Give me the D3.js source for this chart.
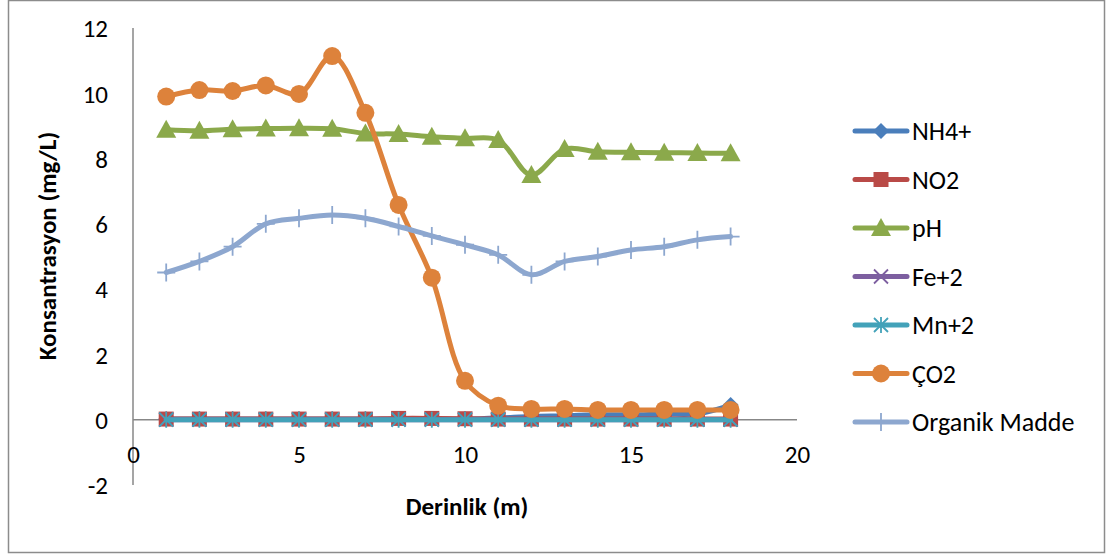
<!DOCTYPE html>
<html>
<head>
<meta charset="utf-8">
<script src="https://cdn.jsdelivr.net/npm/d3@7/dist/d3.min.js"></script>
<style>
  html, body { margin: 0; padding: 0; background: #fff; }
  svg text { font-family: Carlito, Lato, "Open Sans", sans-serif; fill: #000; }
</style>
</head>
<body>
<svg id="chart" width="1112" height="557"></svg>
<script>
// Depth (m)
const depth = [1,2,3,4,5,6,7,8,9,10,11,12,13,14,15,16,17,18];

// Concentrations (mg/L) per parameter
const nh4 = [0.02,0.02,0.02,0.02,0.02,0.02,0.02,0.02,0.02,0.02,0.05,0.1,0.12,0.15,0.15,0.17,0.18,0.45];
const no2 = [0.02,0.02,0.02,0.02,0.02,0.02,0.02,0.04,0.04,0.03,0.02,0.02,0.02,0.02,0.02,0.02,0.02,0.02];
const ph  = [8.88,8.85,8.9,8.92,8.93,8.91,8.77,8.75,8.67,8.62,8.57,7.5,8.29,8.21,8.19,8.18,8.17,8.16];
const fe2 = [0,0,0,0,0,0,0,0,0,0,0,0,0,0,0,0,0,0];
const mn2 = [0,0,0,0,0,0,0,0,0,0,0,0,0,0,0,0,0,0];
const co2 = [9.9,10.1,10.07,10.24,9.98,11.14,9.4,6.58,4.35,1.19,0.43,0.33,0.33,0.3,0.3,0.3,0.3,0.3];
const organik = [4.51,4.85,5.3,6.0,6.17,6.27,6.17,5.92,5.63,5.36,5.05,4.44,4.85,5.0,5.2,5.3,5.51,5.61];

const seriesNames = ["NH4+","NO2","pH","Fe+2","Mn+2","ÇO2","Organik Madde"];
const xTicks = [0,5,10,15,20];
const yTicks = [-2,0,2,4,6,8,10,12];

const seriesDefs = [
  { name: seriesNames[0], values: nh4, color: "#4A7EBB", marker: "diamond" },
  { name: seriesNames[1], values: no2, color: "#B94A47", marker: "square" },
  { name: seriesNames[2], values: ph, color: "#8BA94B", marker: "triangle" },
  { name: seriesNames[3], values: fe2, color: "#7D5FA0", marker: "x" },
  { name: seriesNames[4], values: mn2, color: "#43A2B9", marker: "star" },
  { name: seriesNames[5], values: co2, color: "#DD823B", marker: "circle" },
  { name: seriesNames[6], values: organik, color: "#8DA7CF", marker: "plus" }
];

const FONT = "Carlito, Lato, sans-serif";
const svg = d3.select("#chart");

// Outer chart frame
svg.append("rect")
  .attr("x", 8.5).attr("y", 0.5)
  .attr("width", 1096).attr("height", 552)
  .attr("fill", "none").attr("stroke", "#8c8c8c").attr("stroke-width", 1.5);

const x = d3.scaleLinear().domain([0, 20]).range([133, 797]);
const y = d3.scaleLinear().domain([-2, 12]).range([485, 28]);

// Y axis labels, plain hyphen for negatives
const yAxis = d3.axisLeft(y).tickValues(yTicks).tickSize(0).tickPadding(0)
  .tickFormat(d => String(d));
const gy = svg.append("g").attr("transform", `translate(108,0)`).call(yAxis);
gy.select(".domain").remove();
gy.selectAll("text").style("font-size", "25px").style("font-family", FONT).attr("dy", "0.35em");

svg.append("line")
  .attr("x1", x(0)).attr("x2", x(0))
  .attr("y1", y(12)).attr("y2", y(-2))
  .attr("stroke", "#878787").attr("stroke-width", 1.5);

// X axis drawn at value 0
svg.append("line")
  .attr("x1", x(0)).attr("x2", x(20))
  .attr("y1", y(0)).attr("y2", y(0))
  .attr("stroke", "#878787").attr("stroke-width", 1.5);

const xAxis = d3.axisBottom(x).tickValues(xTicks).tickSize(0).tickPadding(0)
  .tickFormat(d => String(d));
const gx = svg.append("g").attr("transform", `translate(0,463)`).call(xAxis);
gx.select(".domain").remove();
gx.selectAll("text").style("font-size", "25px").style("font-family", FONT).attr("dy", "0");

// Axis titles
svg.append("text")
  .attr("x", 467).attr("y", 515)
  .attr("text-anchor", "middle")
  .style("font-size", "25px").style("font-weight", "bold")
  .text("Derinlik (m)");

svg.append("text")
  .attr("transform", `translate(56,246) rotate(-90)`)
  .attr("text-anchor", "middle")
  .style("font-size", "25px").style("font-weight", "bold")
  .text("Konsantrasyon (mg/L)");

// Marker glyphs
function drawMarker(g, type, color, cx, cy) {
  if (type === "circle") {
    g.append("circle").attr("cx", cx).attr("cy", cy).attr("r", 9).attr("fill", color);
  } else if (type === "square") {
    g.append("rect").attr("x", cx - 7.5).attr("y", cy - 7.5).attr("width", 15).attr("height", 15).attr("fill", color);
  } else if (type === "triangle") {
    g.append("path").attr("d", `M${cx},${cy - 10}L${cx + 10},${cy + 8}L${cx - 10},${cy + 8}Z`).attr("fill", color);
  } else if (type === "diamond") {
    g.append("path").attr("d", `M${cx},${cy - 8}L${cx + 8},${cy}L${cx},${cy + 8}L${cx - 8},${cy}Z`).attr("fill", color);
  } else if (type === "x") {
    g.append("path").attr("d", `M${cx - 7},${cy - 7}L${cx + 7},${cy + 7}M${cx - 7},${cy + 7}L${cx + 7},${cy - 7}`)
      .attr("stroke", color).attr("stroke-width", 1.8).attr("fill", "none");
  } else if (type === "star") {
    g.append("path").attr("d", `M${cx - 7},${cy - 7}L${cx + 7},${cy + 7}M${cx - 7},${cy + 7}L${cx + 7},${cy - 7}M${cx},${cy - 8}L${cx},${cy + 8}`)
      .attr("stroke", color).attr("stroke-width", 1.8).attr("fill", "none");
  } else if (type === "plus") {
    g.append("path").attr("d", `M${cx},${cy - 9}L${cx},${cy + 9}M${cx - 9},${cy}L${cx + 9},${cy}`)
      .attr("stroke", color).attr("stroke-width", 1.8).attr("fill", "none");
  }
}

const line = d3.line()
  .x((d, i) => x(depth[i]))
  .y(d => y(d))
  .curve(d3.curveCatmullRom.alpha(0.5));

const plot = svg.append("g");
seriesDefs.forEach(s => {
  const g = plot.append("g");
  g.append("path")
    .attr("d", line(s.values))
    .attr("fill", "none")
    .attr("stroke", s.color)
    .attr("stroke-width", 5)
    .attr("stroke-linejoin", "round")
    .attr("stroke-linecap", "round");
  s.values.forEach((v, i) => drawMarker(g, s.marker, s.color, x(depth[i]), y(v)));
});

// Legend
const legend = svg.append("g");
const legendTop = 131, legendStep = 48.5;
seriesDefs.forEach((s, i) => {
  const ly = legendTop + i * legendStep;
  const g = legend.append("g");
  g.append("line")
    .attr("x1", 855).attr("x2", 907).attr("y1", ly).attr("y2", ly)
    .attr("stroke", s.color).attr("stroke-width", 5).attr("stroke-linecap", "round");
  drawMarker(g, s.marker, s.color, 881, ly);
  g.append("text")
    .attr("x", 912).attr("y", ly).attr("dy", "0.35em")
    .style("font-size", "26px")
    .text(s.name);
});
</script>
</body>
</html>
